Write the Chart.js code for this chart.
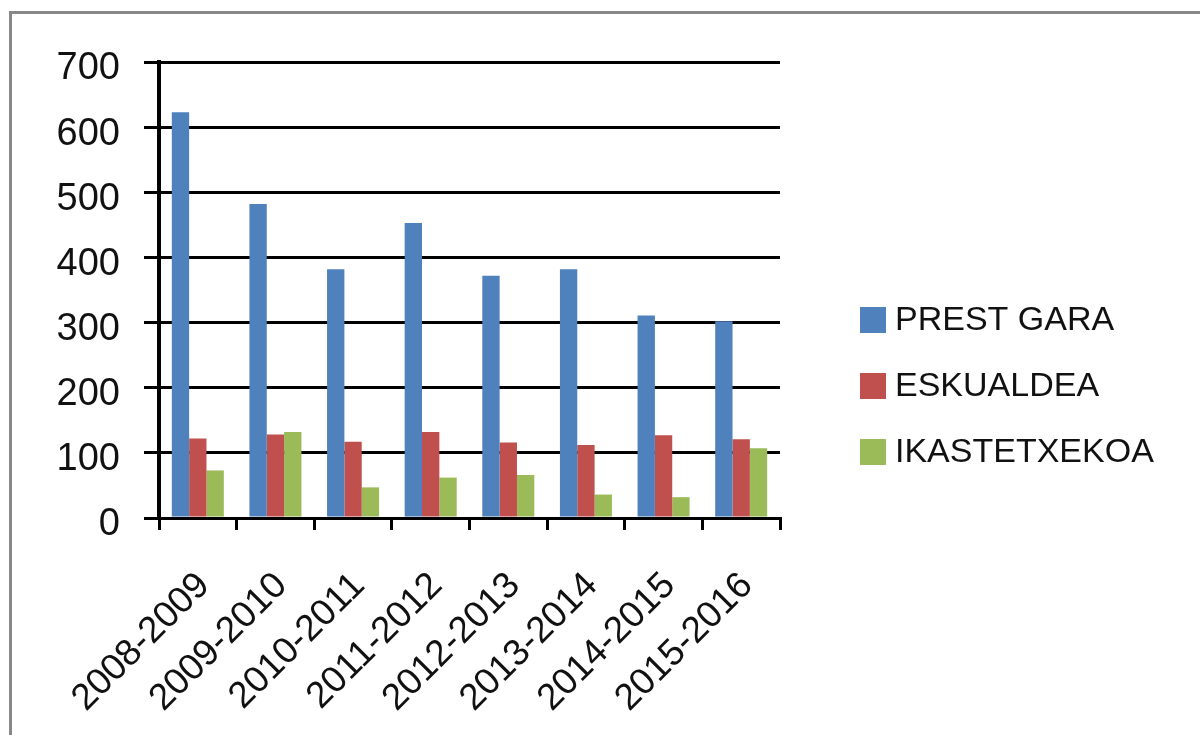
<!DOCTYPE html>
<html>
<head>
<meta charset="utf-8">
<script src="https://cdn.jsdelivr.net/npm/chart.js@4/dist/chart.umd.min.js"></script>
<style>
  html, body { margin: 0; padding: 0; background: #fff; overflow: hidden; }
  #wrap { position: relative; width: 1200px; height: 735px; }
  #frame { position: absolute; left: 9px; top: 11px; width: 1200px; height: 740px;
           border-left: 3px solid #888; border-top: 3px solid #888; pointer-events: none; }
  canvas { position: absolute; left: 0; top: 0; }
</style>
</head>
<body>
<div id="wrap">
  <canvas id="c" width="1200" height="735"></canvas>
  <div id="frame"></div>
</div>
<script>
const categories = ["2008-2009", "2009-2010", "2010-2011", "2011-2012", "2012-2013", "2013-2014", "2014-2015", "2015-2016"];
const seriesNames = ["PREST GARA", "ESKUALDEA", "IKASTETXEKOA"];
const prestGara = [623, 482, 382, 453, 372, 382, 311, 302];
const eskualdea = [122, 128, 117, 132, 116, 112, 127, 121];
const ikastetxekoa = [73, 132, 47, 62, 66, 36, 32, 107];
const yMin = 0, yMax = 700, yStep = 100;

const colors = ["#4F81BD", "#C0504D", "#9BBB59"];
const FONT = "'Liberation Sans', Arial, sans-serif";

const legendPlugin = {
  id: 'customLegend',
  afterDraw(chart) {
    const ctx = chart.ctx;
    ctx.save();
    ctx.font = "34px " + FONT;
    ctx.textBaseline = 'middle';
    ctx.textAlign = 'left';
    chart.data.datasets.forEach((ds, i) => {
      const cy = 320 + i * 66;
      ctx.fillStyle = ds.backgroundColor;
      ctx.fillRect(860, cy - 13, 26, 26);
      ctx.fillStyle = '#111';
      ctx.fillText(ds.label, 895, cy + 1);
    });
    ctx.restore();
  }
};

new Chart(document.getElementById('c'), {
  type: 'bar',
  data: {
    labels: categories,
    datasets: [
      { label: seriesNames[0], data: prestGara, backgroundColor: colors[0] },
      { label: seriesNames[1], data: eskualdea, backgroundColor: colors[1] },
      { label: seriesNames[2], data: ikastetxekoa, backgroundColor: colors[2] }
    ]
  },
  options: {
    responsive: false,
    animation: false,
    devicePixelRatio: 1,
    layout: { padding: { left: 0, right: 420, top: 62, bottom: 0 } },
    plugins: { legend: { display: false }, tooltip: { enabled: false } },
    datasets: { bar: { categoryPercentage: 0.67, barPercentage: 1.0, borderWidth: 0 } },
    scales: {
      x: {
        grid: { display: true, drawOnChartArea: false, drawTicks: true, tickLength: 12,
                color: '#000', lineWidth: 3, offset: true },
        border: { display: true, color: '#000', width: 3 },
        ticks: { color: '#111', font: { family: FONT, size: 37 }, minRotation: 45, maxRotation: 45,
                 autoSkip: false, padding: 34, labelOffset: 6 },
        afterFit: (s) => { s.height = 217; }
      },
      y: {
        min: yMin, max: yMax,
        grid: { color: '#000', lineWidth: 3, drawTicks: true, tickLength: 15 },
        border: { display: true, color: '#000', width: 4 },
        ticks: { stepSize: yStep, color: '#111', font: { family: FONT, size: 38 }, padding: 24, labelOffset: 7 },
        afterFit: (s) => { s.width = 159; }
      }
    }
  },
  plugins: [legendPlugin]
});
</script>
</body>
</html>
